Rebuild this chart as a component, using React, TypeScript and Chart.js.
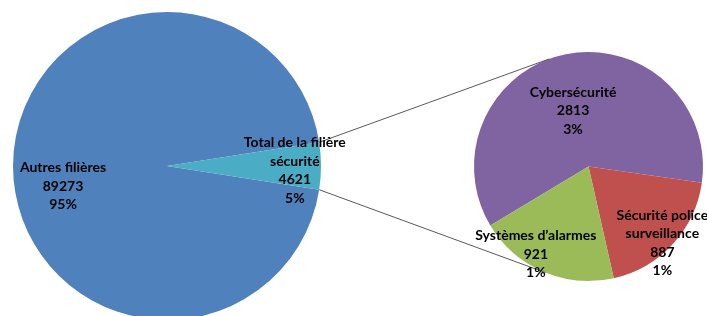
import React, { useEffect, useRef } from 'react';
import { Chart, registerables } from 'chart.js';

Chart.register(...registerables);

// ---- Data ----
const mainCategories = ['Autres filières', 'Total de la filière\nsécurité'];
const mainValues = [89273, 4621];
const detailCategories = ['Cybersécurité', 'Sécurité police\nsurveillance', 'Systèmes d’alarmes'];
const detailValues = [2813, 887, 921];

// ---- Styles ----
const mainColors = ['#4F81BD', '#4BACC6'];
const detailColors = ['#8064A2', '#C0504D', '#9BBB59'];
const mainLabelOffsets = [[-0.675, 0.13], [0.83, 0.03]];
const detailLabelOffsets = [[-0.135, -0.485], [0.645, 0.67], [-0.46, 0.765]];
const FONT = 'bold 14px Lato, "Open Sans", sans-serif';
const LINE_H = 18.5;
const CONNECTOR_ANGLES = [-110, 112];

const W = 707;
const H = 316;

export default function App() {
  const leftRef = useRef<HTMLCanvasElement>(null);
  const rightRef = useRef<HTMLCanvasElement>(null);

  useEffect(() => {
    const grand = mainValues.reduce((a, b) => a + b, 0);
    const detailShareDeg = (mainValues[1] / grand) * 360;
    const pct = (v: number) => Math.round((v / grand) * 100) + '%';

    const left = new Chart(leftRef.current!, {
      type: 'pie',
      data: {
        labels: mainCategories,
        datasets: [{ data: mainValues, backgroundColor: mainColors, borderWidth: 0 }],
      },
      options: {
        responsive: false,
        animation: false,
        events: [],
        rotation: 90 + detailShareDeg / 2,
        layout: { padding: { left: 13, top: 12, right: 386, bottom: 10 } },
        plugins: { legend: { display: false }, tooltip: { enabled: false } },
      },
    });

    const drawLabels = (
      ctx: CanvasRenderingContext2D,
      meta: any,
      names: string[],
      values: number[],
      offsets: number[][]
    ) => {
      const arc0 = meta.data[0];
      const { x: cx, y: cy, outerRadius: r } = arc0.getProps(['x', 'y', 'outerRadius'], true);
      names.forEach((name, i) => {
        const lines = [...name.split('\n'), String(values[i]), pct(values[i])];
        const ax = cx + offsets[i][0] * r;
        const ay = cy + offsets[i][1] * r;
        const n = lines.length;
        lines.forEach((t, j) => {
          ctx.fillText(t, ax, ay + (j - (n - 1) / 2) * LINE_H);
        });
      });
    };

    const overlay = {
      id: 'pieOfPieOverlay',
      afterDraw(chart: any) {
        const ctx: CanvasRenderingContext2D = chart.ctx;
        const lm = left.getDatasetMeta(0);
        const rm = chart.getDatasetMeta(0);
        const teal: any = lm.data[1];
        const t = teal.getProps(['x', 'y', 'outerRadius', 'startAngle', 'endAngle'], true);
        const ra: any = rm.data[0];
        const rp = ra.getProps(['x', 'y', 'outerRadius'], true);
        ctx.save();
        ctx.strokeStyle = '#595959';
        ctx.lineWidth = 1;
        const starts = [t.startAngle, t.endAngle];
        starts.forEach((a: number, k: number) => {
          const b = (CONNECTOR_ANGLES[k] * Math.PI) / 180;
          ctx.beginPath();
          ctx.moveTo(t.x + t.outerRadius * Math.cos(a), t.y + t.outerRadius * Math.sin(a));
          ctx.lineTo(rp.x + rp.outerRadius * Math.cos(b), rp.y + rp.outerRadius * Math.sin(b));
          ctx.stroke();
        });
        ctx.fillStyle = '#000000';
        ctx.font = FONT;
        ctx.textAlign = 'center';
        ctx.textBaseline = 'middle';
        drawLabels(ctx, lm, mainCategories, mainValues, mainLabelOffsets);
        drawLabels(ctx, rm, detailCategories, detailValues, detailLabelOffsets);
        ctx.restore();
      },
    };

    const right = new Chart(rightRef.current!, {
      type: 'pie',
      data: {
        labels: detailCategories,
        datasets: [{ data: detailValues, backgroundColor: detailColors, borderWidth: 0 }],
      },
      options: {
        responsive: false,
        animation: false,
        events: [],
        rotation: 239,
        layout: { padding: { left: 474, top: 52, right: 4, bottom: 35 } },
        plugins: { legend: { display: false }, tooltip: { enabled: false } },
      },
      plugins: [overlay],
    });

    return () => {
      right.destroy();
      left.destroy();
    };
  }, []);

  return (
    <div
      style={{
        position: 'fixed',
        left: 0,
        top: 0,
        width: W,
        height: H,
        overflow: 'hidden',
        background: '#ffffff',
      }}
    >
      <canvas
        ref={leftRef}
        width={W}
        height={330}
        style={{ position: 'absolute', left: 0, top: 0, width: W, height: 330 }}
      />
      <canvas
        ref={rightRef}
        width={W}
        height={H}
        style={{ position: 'absolute', left: 0, top: 0, width: W, height: H }}
      />
    </div>
  );
}
